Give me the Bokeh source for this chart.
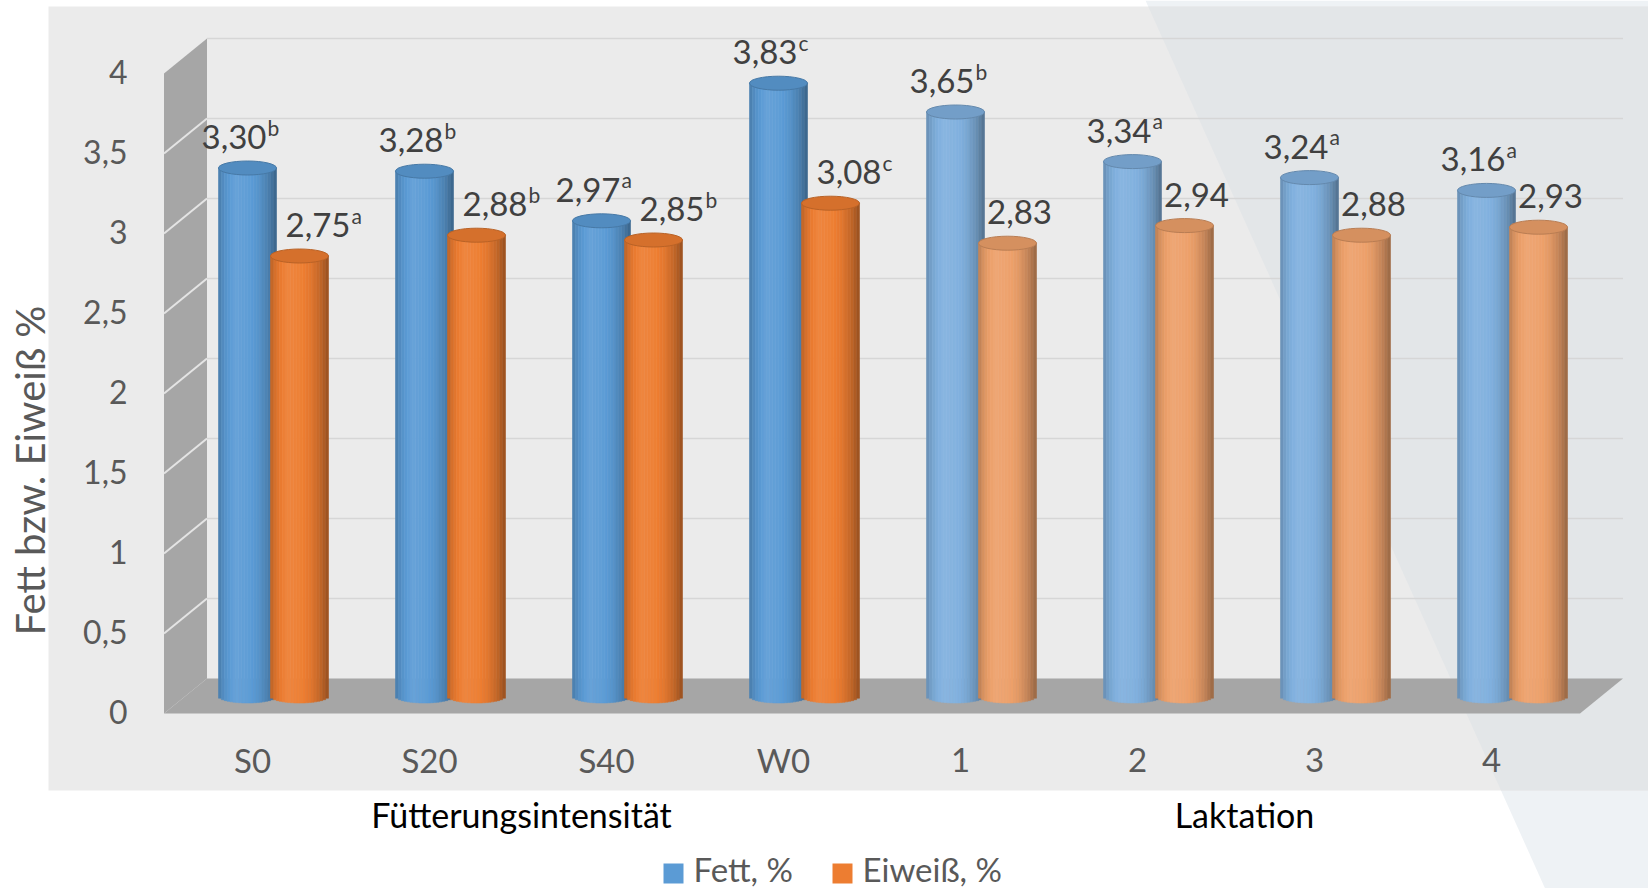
import math
import numpy as np
from bokeh.plotting import figure
from bokeh.models import Range1d
from bokeh.core.properties import value
from bokeh.embed import file_html
from bokeh.resources import INLINE

# ---------------- data ----------------
categories = ["S0", "S20", "S40", "W0", "1", "2", "3", "4"]
fett = [3.30, 3.28, 2.97, 3.83, 3.65, 3.34, 3.24, 3.16]
eiweiss = [2.75, 2.88, 2.85, 3.08, 2.83, 2.94, 2.88, 2.93]
fett_letters = ["b", "b", "a", "c", "b", "a", "a", "a"]
eiweiss_letters = ["a", "b", "b", "c", "", "", "", ""]
group_names = ["Fütterungsintensität", "Laktation"]
group_of_category = [0, 0, 0, 0, 1, 1, 1, 1]
series_names = ["Fett, %", "Eiweiß, %"]
y_ticks = [0, 0.5, 1, 1.5, 2, 2.5, 3, 3.5, 4]
y_tick_labels = ["0", "0,5", "1", "1,5", "2", "2,5", "3", "3,5", "4"]
y_axis_title = "Fett bzw. Eiweiß %"

# ---------------- layout (pixels) ----------------
W, H = 1648, 888
CAT0_PX = 252      # centre of the first category on the front plane
CAT_PX = 177       # category pitch
ZERO_PX = 713      # value 0 on the front plane
UNIT_PX = 160      # pixels per 1 %
TXT_LIFT = 14      # baseline correction for the text glyphs


def xd(px):
    return (px - CAT0_PX) / CAT_PX


def yd(py):
    return (ZERO_PX - py) / UNIT_PX


def xs(n):
    return n / CAT_PX


def ys(n):
    return n / UNIT_PX


DEPTH_X, DEPTH_Y = xs(43), ys(35)          # perspective depth of the box
BAR_BASE = DEPTH_Y / 2                     # cylinders stand mid-depth
BAR_W = xs(58)
SERIES_SHIFT = [xs(-5), xs(47)]
CAP_H = ys(14)
Y_MAX = y_ticks[-1]
X_LO, X_HI = -0.5, len(categories) - 0.5

FONT = value("Lato")
COL_FULL = ["#5b9bd5", "#ed7d31"]
COL_FADED = ["#80b0de", "#eda06a"]
TEXT_DARK = "#404040"
TEXT_AXIS = "#595959"

# horizontal light profile across a cylinder
PROFILE_T = [0.0, 0.1, 0.3, 0.5, 0.7, 0.86, 1.0]
PROFILE_F = [0.80, 0.93, 1.07, 1.03, 0.95, 0.82, 0.64]


def shade(hexcol, f):
    rgb = [int(hexcol[i:i + 2], 16) for i in (1, 3, 5)]
    if f >= 1:
        rgb = [c + (255 - c) * (f - 1) for c in rgb]
    else:
        rgb = [c * f for c in rgb]
    return "#%02x%02x%02x" % tuple(int(round(min(255, max(0, c)))) for c in rgb)


p = figure(width=W, height=H, output_backend="svg", toolbar_location=None,
           x_range=Range1d(xd(0), xd(W)), y_range=Range1d(yd(H), yd(0)),
           x_axis_location=None, y_axis_location=None, min_border=0)
p.grid.visible = False
p.outline_line_color = None
p.background_fill_color = "white"
p.border_fill_color = "white"

# ---------------- backdrop ----------------
def diag_x(py):
    return 1145 + 0.45 * py

p.patch([xd(diag_x(0)), xd(W), xd(W), xd(diag_x(H))], [yd(0), yd(0), yd(H), yd(H)],
        fill_color="#eef2f5", line_color=None)
p.quad(left=[xd(48)], right=[xd(W)], top=[yd(6)], bottom=[yd(790)],
       fill_color="#ebebeb", line_color=None)
p.patch([xd(diag_x(6)), xd(W), xd(W), xd(diag_x(790))], [yd(6), yd(6), yd(790), yd(790)],
        fill_color="#e3e6e8", line_color=None)

# back wall gridlines
grid_vals = [v for v in y_ticks if v > 0]
p.multi_line(xs=[[X_LO + DEPTH_X, X_HI + DEPTH_X] for _ in grid_vals],
             ys=[[v + DEPTH_Y, v + DEPTH_Y] for v in grid_vals],
             line_color="#d6d6d6", line_width=1.6)

# side wall
p.patch([X_LO, X_LO, X_LO + DEPTH_X, X_LO + DEPTH_X],
        [0, Y_MAX, Y_MAX + DEPTH_Y, DEPTH_Y], fill_color="#a6a6a6", line_color=None)
side_vals = [v for v in y_ticks if 0 < v < Y_MAX]
p.multi_line(xs=[[X_LO, X_LO + DEPTH_X] for _ in side_vals],
             ys=[[v, v + DEPTH_Y] for v in side_vals],
             line_color="#e4e4e4", line_width=2)

# floor
p.patch([X_LO, X_HI, X_HI + DEPTH_X, X_LO + DEPTH_X],
        [0, 0, DEPTH_Y, DEPTH_Y], fill_color="#a6a6a6", line_color=None)

# ---------------- cylinders ----------------
N_STRIPS = 20
for s, vals in enumerate([fett, eiweiss]):
    L, R, B, T, C = [], [], [], [], []
    cap_x, cap_y, cap_fill, cap_line = [], [], [], []
    for i, v in enumerate(vals):
        base = (COL_FADED if group_of_category[i] == 1 else COL_FULL)[s]
        cx = i + SERIES_SHIFT[s]
        for k in range(N_STRIPS):
            t0, t1 = k / N_STRIPS, (k + 1) / N_STRIPS
            tm = (t0 + t1) / 2
            u = 2 * tm - 1
            col = shade(base, float(np.interp(tm, PROFILE_T, PROFILE_F)))
            L.append(cx - BAR_W / 2 + t0 * BAR_W)
            R.append(cx - BAR_W / 2 + t1 * BAR_W)
            B.append(BAR_BASE - CAP_H / 2 * math.sqrt(max(0.0, 1 - u * u)))
            T.append(v + BAR_BASE)
            C.append(col)
        cap_x.append(cx)
        cap_y.append(v + BAR_BASE)
        cap_fill.append(shade(base, 0.9))
        cap_line.append(shade(base, 0.78))
    p.quad(left=L, right=R, bottom=B, top=T, fill_color=C, line_color=C, line_width=0.6)
    p.ellipse(x=cap_x, y=cap_y, width=BAR_W, height=CAP_H,
              fill_color=cap_fill, line_color=cap_line, line_width=1)

# ---------------- value labels ----------------
LBL_FS, SUP_FS = 33, 21


def fmt(v):
    return f"{v:.2f}".replace(".", ",")


main_x, main_y, main_t, main_align = [], [], [], []
sup_x, sup_y, sup_t = [], [], []
for s, (vals, letters) in enumerate([(fett, fett_letters), (eiweiss, eiweiss_letters)]):
    for i, (v, let) in enumerate(zip(vals, letters)):
        cx = i + SERIES_SHIFT[s]
        txt = fmt(v)
        if s == 0:
            centre = cx - xs(8)
        else:
            centre = cx + xs(24 if let else 12)
        yb = v + BAR_BASE + ys(17 + TXT_LIFT)
        if let:
            main_w = LBL_FS * (0.58 * (len(txt) - 1) + 0.25)
            sup_w = SUP_FS * 0.56
            split = centre + xs(-(main_w + sup_w) / 2 + main_w)
            main_x.append(split); main_align.append("right")
            sup_x.append(split + xs(1)); sup_y.append(yb + ys(10)); sup_t.append(let)
        else:
            main_x.append(centre); main_align.append("center")
        main_y.append(yb); main_t.append(txt)

p.text(x=main_x, y=main_y, text=main_t, text_align=main_align, text_baseline="alphabetic",
       text_font=FONT, text_font_size=f"{LBL_FS}px", text_color=TEXT_DARK)
p.text(x=sup_x, y=sup_y, text=sup_t, text_align="left", text_baseline="alphabetic",
       text_font=FONT, text_font_size=f"{SUP_FS}px", text_color=TEXT_DARK)

# ---------------- axes texts ----------------
p.text(x=[xd(127)] * len(y_ticks), y=[v - ys(12 - TXT_LIFT) for v in y_ticks], text=y_tick_labels,
       text_align="right", text_baseline="alphabetic",
       text_font=FONT, text_font_size="32px", text_color=TEXT_AXIS)
p.text(x=list(range(len(categories))), y=[yd(773 - TXT_LIFT)] * len(categories), text=categories,
       text_align="center", text_baseline="alphabetic",
       text_font=FONT, text_font_size="33px", text_color=TEXT_AXIS)
p.text(x=[xd(43 - TXT_LIFT)], y=[yd(470)], text=[y_axis_title], angle=math.pi / 2,
       text_align="center", text_baseline="alphabetic",
       text_font=FONT, text_font_size="40px", text_color=TEXT_AXIS)
GROUP_X_PX = [521, 1244]
p.text(x=[xd(g) for g in GROUP_X_PX], y=[yd(828 - TXT_LIFT)] * 2, text=group_names,
       text_align="center", text_baseline="alphabetic",
       text_font=FONT, text_font_size="34px", text_color="#000000")

# ---------------- legend ----------------
LEG_SQ_PX = [663, 832]
p.quad(left=[xd(x) for x in LEG_SQ_PX], right=[xd(x + 20) for x in LEG_SQ_PX],
       top=[yd(863)] * 2, bottom=[yd(883)] * 2, fill_color=COL_FULL, line_color=None)
p.text(x=[xd(x + 30) for x in LEG_SQ_PX], y=[yd(882 - TXT_LIFT)] * 2, text=series_names,
       text_align="left", text_baseline="alphabetic",
       text_font=FONT, text_font_size="33px", text_color=TEXT_AXIS)

open("out.html", "w").write(file_html(p, INLINE))
